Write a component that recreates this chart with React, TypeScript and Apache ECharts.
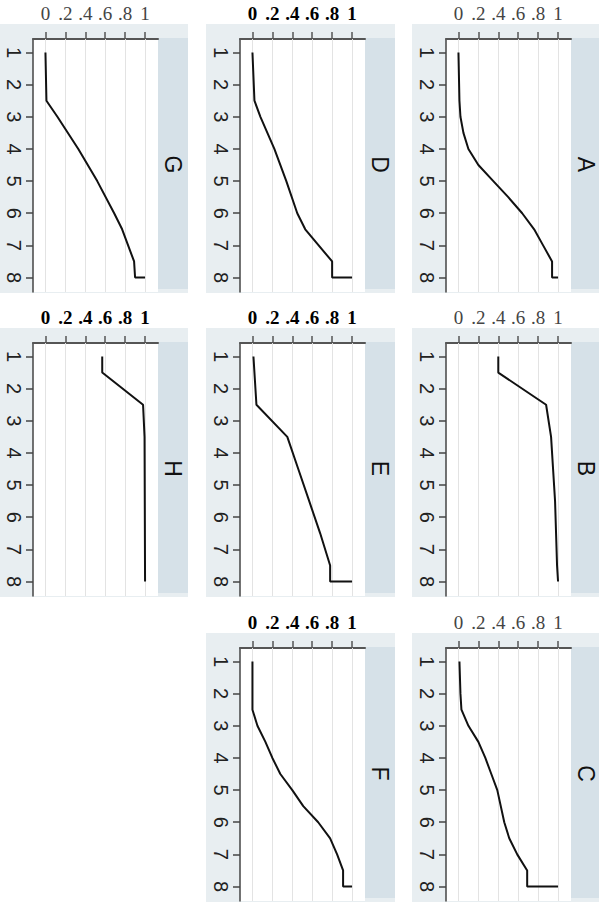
import React, { useEffect, useRef } from "react";
import * as echarts from "echarts";

// ---- data: [category position, share] ----
const categoryTicks = [1, 2, 3, 4, 5, 6, 7, 8];
const shareTicks = [0, 0.2, 0.4, 0.6, 0.8, 1];
const shareTickLabels = ["0", ".2", ".4", ".6", ".8", "1"];

const dataG = [[1, 0], [2.5, 0.01], [3, 0.12], [4, 0.33], [5, 0.52], [6, 0.69], [6.5, 0.77], [7.5, 0.89], [8, 0.9], [8, 1]];
const dataD = [[1, 0], [2.5, 0.02], [3, 0.08], [4, 0.22], [5, 0.34], [6, 0.45], [6.5, 0.53], [7.5, 0.8], [8, 0.8], [8, 1]];
const dataA = [[1, 0], [2.5, 0.01], [3, 0.02], [3.5, 0.05], [4, 0.1], [4.5, 0.2], [5, 0.35], [5.5, 0.5], [6, 0.64], [6.5, 0.76], [7, 0.85], [7.5, 0.94], [8, 0.94], [8, 1]];
const dataH = [[1, 0.57], [1.5, 0.57], [2.5, 0.98], [3.5, 0.995], [8, 1]];
const dataE = [[1, 0.01], [2.5, 0.04], [3.5, 0.35], [4.5, 0.46], [5.5, 0.57], [6.5, 0.68], [7.5, 0.78], [8, 0.78], [8, 1]];
const dataB = [[1, 0.4], [1.5, 0.4], [2.5, 0.88], [3.5, 0.93], [4.5, 0.95], [5.5, 0.97], [6.5, 0.98], [7.5, 0.99], [8, 1]];
const dataF = [[1, 0], [2.5, 0], [3, 0.05], [3.5, 0.13], [4, 0.2], [4.5, 0.28], [5, 0.4], [5.5, 0.51], [6, 0.66], [6.5, 0.78], [7, 0.85], [7.5, 0.91], [8, 0.91], [8, 1]];
const dataC = [[1, 0.01], [2, 0.02], [2.5, 0.03], [3, 0.1], [3.5, 0.2], [4, 0.27], [4.5, 0.33], [5, 0.39], [6, 0.46], [6.5, 0.51], [7, 0.59], [7.5, 0.69], [8, 0.69], [8, 1]];

const panels = [
  { name: "G", data: dataG, row: 0, col: 0, bold: false },
  { name: "D", data: dataD, row: 0, col: 1, bold: true },
  { name: "A", data: dataA, row: 0, col: 2, bold: false },
  { name: "H", data: dataH, row: 1, col: 0, bold: true },
  { name: "E", data: dataE, row: 1, col: 1, bold: true },
  { name: "B", data: dataB, row: 1, col: 2, bold: false },
  { name: "F", data: dataF, row: 2, col: 1, bold: true },
  { name: "C", data: dataC, row: 2, col: 2, bold: false },
];

// ---- layout ----
const colX = [33, 240, 446];
const rowY = [39, 343, 648];
const plotW = 125;
const plotH = 253;
const stripW = 30;

export default function App() {
  const ref = useRef<HTMLDivElement>(null);
  useEffect(() => {
    if (!ref.current) return;
    const chart = echarts.init(ref.current, null, { renderer: "svg" });

    const grid: any[] = [];
    const xAxis: any[] = [];
    const yAxis: any[] = [];
    const series: any[] = [];
    const graphic: any[] = [];

    panels.forEach((p, i) => {
      const left = colX[p.col];
      const top = rowY[p.row];
      grid.push({
        left,
        top,
        width: plotW,
        height: plotH,
        show: true,
        backgroundColor: "#ffffff",
        borderWidth: 0,
      });
      xAxis.push({
        gridIndex: i,
        type: "value",
        position: "top",
        min: -0.125,
        max: 1.13,
        axisLine: { show: true, onZero: false, lineStyle: { color: "#555", width: 2 } },
        axisTick: { show: true, customValues: shareTicks, length: 7, lineStyle: { color: "#555", width: 1.5 } },
        axisLabel: {
          customValues: shareTicks,
          formatter: (v: number) => {
            const k = shareTicks.findIndex((t) => Math.abs(t - v) < 1e-9);
            return k >= 0 ? shareTickLabels[k] : String(v);
          },
          fontFamily: "Liberation Serif",
          fontSize: 19,
          fontWeight: p.bold ? "bold" : "normal",
          color: p.bold ? "#000" : "#444",
          margin: 16,
        },
        splitLine: { show: false },
      });
      yAxis.push({
        gridIndex: i,
        type: "value",
        inverse: true,
        min: 0.58,
        max: 8.45,
        axisLine: { show: true, onZero: false, lineStyle: { color: "#444", width: 1.5 } },
        axisTick: { show: true, customValues: categoryTicks, length: 7, lineStyle: { color: "#444", width: 1.5 } },
        axisLabel: {
          customValues: categoryTicks,
          rotate: -90,
          fontFamily: "Liberation Sans",
          fontSize: 20,
          color: "#222",
          margin: 9,
        },
        splitLine: { show: false },
      });
      series.push({
        type: "line",
        xAxisIndex: i,
        yAxisIndex: i,
        data: p.data.map((d) => [d[1], d[0]]),
        symbol: "none",
        z: 3,
        lineStyle: { color: "#111", width: 2 },
        markLine: {
          silent: true,
          symbol: ["none", "none"],
          z: 1,
          label: { show: false },
          lineStyle: { color: "#e3e3e3", width: 1, type: "solid" },
          data: shareTicks.map((t) => ({ xAxis: t })),
        },
      });
      // panel background, strip and strip label
      graphic.push({
        type: "rect",
        z: -10,
        silent: true,
        shape: { x: left - 34, y: top - 15, width: plotW + stripW + 34, height: plotH + 16 },
        style: { fill: "#e8eef1" },
      });
      graphic.push({
        type: "rect",
        z: -5,
        silent: true,
        shape: { x: left + plotW, y: top - 1, width: stripW, height: plotH - 2 },
        style: { fill: "#d6e1e8" },
      });
      graphic.push({
        type: "text",
        z: 10,
        x: left + plotW + stripW / 2,
        y: top + plotH / 2 - 1,
        rotation: -Math.PI / 2,
        style: {
          text: p.name,
          fill: "#111",
          font: "23px 'Liberation Sans'",
          textAlign: "center",
          textVerticalAlign: "middle",
        },
      });
    });

    chart.setOption({
      animation: false,
      backgroundColor: "#ffffff",
      grid,
      xAxis,
      yAxis,
      series,
      graphic,
    });
    return () => chart.dispose();
  }, []);
  return (
    <div
      ref={ref}
      style={{ position: "fixed", left: 0, top: 0, width: 599, height: 905 }}
    />
  );
}
